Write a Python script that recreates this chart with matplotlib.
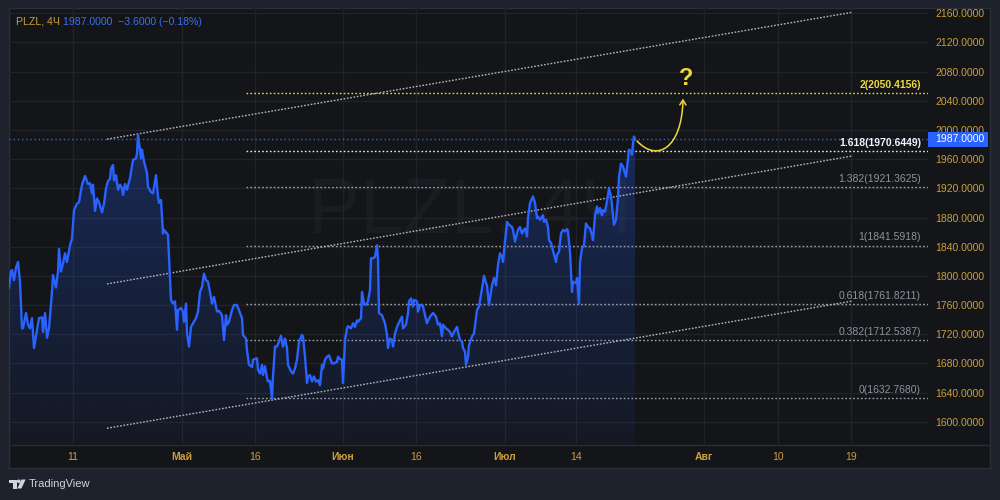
import matplotlib
matplotlib.use("Agg")
import matplotlib.pyplot as plt
import numpy as np
import matplotlib.transforms as mtransforms
from matplotlib.patches import Rectangle, Polygon, FancyArrowPatch, Circle
from matplotlib.path import Path
from matplotlib.lines import Line2D
from matplotlib.colors import to_rgb

plt.rcParams['font.family'] = ['Liberation Sans', 'DejaVu Sans']

# ---------------- data ----------------
symbol = "PLZL, 4Ч"
last_price = 1987.0
change = -3.6
change_pct = -0.18

bar_idx = [0, 2, 3, 5, 7, 9, 11, 13, 14, 17, 19, 21, 23, 25, 28, 30, 33, 34, 36, 38,
           40, 43, 44, 47, 49, 50, 52, 54, 56, 58, 61, 63, 65, 68, 70, 73, 76, 79, 81, 83,
           84, 86, 88, 90, 93, 95, 97, 99, 101, 102, 104, 105, 107, 109, 111, 113, 114, 116, 118, 121,
           124, 127, 128, 129, 131, 132, 133, 135, 138, 139, 142, 144, 147, 149, 150, 152, 154, 155, 158, 159,
           162, 164, 166, 168, 169, 172, 174, 175, 177, 178, 180, 182, 184, 187, 189, 191, 193, 195, 197, 199,
           201, 203, 205, 208, 210, 213, 215, 217, 218, 220, 223, 225, 228, 230, 233, 234, 237, 238, 240, 243,
           244, 248, 249, 251, 253, 254, 256, 258, 259, 261, 263, 264, 266, 268, 270, 272, 274, 276, 278, 279,
           282, 284, 286, 288, 290, 293, 294, 296, 298, 299, 301, 303, 305, 307, 309, 311, 313, 314, 316, 318,
           320, 323, 325, 328, 329, 331, 333, 334, 336, 338, 339, 342, 344, 346, 348, 349, 352, 353, 355, 357,
           359, 361, 362, 364, 366, 368, 369, 370, 373, 374, 376, 378, 379, 381, 383, 384, 386, 388, 389, 391,
           393, 394, 397, 399, 400, 402, 404, 405, 408, 409, 411, 413, 414, 416, 418, 419, 422, 424, 427, 429,
           431, 433, 434, 437, 439, 441, 443, 445, 448, 449, 451, 453, 454, 456, 457, 459, 460, 463, 465, 468,
           470, 472, 473, 475, 477, 478, 480, 483, 485, 487, 489, 491, 493, 494, 496, 498, 500, 503, 504, 506,
           508, 509, 511, 513, 514, 516, 518, 519, 521, 523, 524, 526, 528, 529, 531, 534, 535, 537, 539, 540,
           542, 544, 545, 547, 548, 550, 552, 554, 556, 558, 559, 561, 563, 564, 567, 568, 570, 571, 573, 575,
           577, 579, 581, 583, 584, 586, 588, 589, 591, 593, 594, 596, 598, 600, 602, 604, 605, 607, 609, 610,
           612, 614, 615, 617, 619, 620, 622, 623, 624, 625, 626]

close = [1784, 1806, 1808, 1794, 1811, 1819, 1792, 1728, 1728, 1749, 1733, 1728, 1742, 1701, 1726, 1742, 1743, 1723, 1749, 1715,
         1728, 1778, 1801, 1784, 1806, 1837, 1806, 1817, 1831, 1819, 1842, 1851, 1890, 1899, 1901, 1925, 1937, 1926, 1927, 1913,
         1925, 1889, 1906, 1901, 1887, 1899, 1920, 1930, 1933, 1947, 1952, 1931, 1938, 1918, 1925, 1920, 1911, 1926, 1918, 1934,
         1959, 1961, 1968, 1993, 1973, 1961, 1973, 1957, 1941, 1922, 1915, 1913, 1938, 1909, 1900, 1904, 1858, 1863, 1858, 1856,
         1767, 1762, 1765, 1726, 1753, 1756, 1751, 1737, 1762, 1721, 1703, 1730, 1735, 1742, 1751, 1778, 1785, 1803, 1794, 1792,
         1778, 1762, 1771, 1751, 1752, 1746, 1712, 1746, 1733, 1737, 1753, 1760, 1760, 1753, 1742, 1719, 1714, 1698, 1678, 1675,
         1685, 1687, 1671, 1666, 1678, 1664, 1676, 1660, 1655, 1656, 1632, 1662, 1703, 1703, 1710, 1718, 1703, 1714, 1701, 1678,
         1669, 1666, 1673, 1685, 1710, 1719, 1717, 1689, 1653, 1662, 1664, 1655, 1662, 1655, 1657, 1650, 1678, 1673, 1685, 1689,
         1691, 1680, 1680, 1682, 1689, 1686, 1685, 1653, 1712, 1728, 1731, 1728, 1735, 1730, 1739, 1737, 1742, 1778, 1762, 1760,
         1765, 1781, 1824, 1824, 1826, 1842, 1824, 1749, 1746, 1742, 1735, 1719, 1701, 1714, 1712, 1703, 1721, 1730, 1733, 1739,
         1744, 1728, 1733, 1749, 1765, 1769, 1758, 1767, 1765, 1751, 1760, 1760, 1758, 1746, 1735, 1739, 1746, 1749, 1744, 1733,
         1735, 1717, 1733, 1728, 1726, 1723, 1717, 1723, 1730, 1723, 1712, 1710, 1701, 1696, 1678, 1689, 1705, 1717, 1721, 1753,
         1758, 1774, 1783, 1800, 1790, 1787, 1760, 1787, 1797, 1787, 1815, 1831, 1826, 1819, 1847, 1874, 1870, 1867, 1863, 1847,
         1858, 1863, 1867, 1858, 1861, 1865, 1854, 1879, 1900, 1906, 1909, 1900, 1879, 1881, 1877, 1883, 1874, 1877, 1867, 1849,
         1845, 1835, 1829, 1819, 1829, 1833, 1858, 1863, 1861, 1864, 1861, 1833, 1778, 1792, 1790, 1797, 1762, 1819, 1838, 1842,
         1872, 1867, 1865, 1856, 1849, 1883, 1895, 1886, 1893, 1883, 1890, 1888, 1902, 1920, 1909, 1883, 1870, 1877, 1906, 1936,
         1954, 1950, 1945, 1936, 1961, 1973, 1971, 1966, 1982, 1991, 1987]

x_tick_pos = [64, 173, 246, 334, 407, 496, 567, 695, 769, 842]
x_tick_labels = ["11", "Май", "16", "Июн", "16", "Июл", "14", "Авг", "10", "19"]
month_labels = ["Май", "Июн", "Июл", "Авг"]
y_ticks = list(range(1600, 2161, 40))

fib_ratios = ["0", "0.382", "0.618", "1", "1.382", "1.618", "2"]
fib_values = [1632.7680, 1712.5387, 1761.8211, 1841.5918, 1921.3625, 1970.6449, 2050.4156]
fib_start = 237

channel_x = [98, 844]
channel_upper = [1987.4, 2161.6]
channel_mid = [1788.9, 1964.5]
channel_lower = [1591.0, 1765.6]

# forecast arrow (annotation)
arrow_pts = [(628, 1985), (648, 1955), (673, 1975), (674, 2043)]
question_pos = (677, 2071)

# ---------------- style ----------------
BG_OUT = '#1e222d'
BG = '#131518'
GRID = '#212329'
GOLD = '#cc9f3c'
BLUE = '#2962ff'
YELLOW = '#ecd93c'
GREY = '#8f929b'
FS = 7.5

XMIN, XMAX = 0, 919
YMIN, YMAX = 1569.4, 2167.3

fig = plt.figure(figsize=(10, 5), dpi=100)
fig.patch.set_facecolor(BG_OUT)

# pixel transform (top-left origin) for decorations
PX = mtransforms.Affine2D().scale(1 / 1000, -1 / 500).translate(0, 1) + fig.transFigure

fig.patches.append(Rectangle((9, 8), 981, 460, transform=PX, facecolor=BG,
                             edgecolor='#2a2e39', lw=1, zorder=-2))
fig.lines.append(Line2D([9, 990], [444.5, 444.5], transform=PX, color='#2a2e39', lw=1, zorder=-1))

ax = fig.add_axes([0.009, 0.112, 0.919, 0.872])
ax.set_zorder(1)
ax.set_facecolor('none')
for s in ax.spines.values():
    s.set_visible(False)

# watermark
ax.text(0.5016, 0.532, symbol, transform=ax.transAxes, fontsize=56, color='#1a1c21',
        ha='center', va='center', zorder=0.5)

# grid
ax.set_yticks(y_ticks)
ax.set_yticklabels([f"{v:.4f}" for v in y_ticks])
ax.set_xticks(x_tick_pos)
ax.set_xticklabels(x_tick_labels)
ax.grid(True, color=GRID, lw=1, zorder=0)
ax.set_axisbelow(True)
ax.yaxis.tick_right()
ax.tick_params(axis='y', length=0, pad=5.0, labelsize=FS, labelcolor=GOLD)
ax.tick_params(axis='x', length=0, pad=5.5, labelsize=FS, labelcolor=GOLD)
for lab in ax.get_xticklabels():
    if lab.get_text() in month_labels:
        lab.set_fontweight('bold')

# area gradient
verts = [(bar_idx[0], YMIN)] + list(zip(bar_idx, close)) + [(bar_idx[-1], YMIN)]
poly = Polygon(verts, closed=True, facecolor='none', edgecolor='none')
ax.add_patch(poly)
n = 256
rgba = np.zeros((n, 1, 4))
rgba[..., :3] = to_rgb(BLUE)
rgba[:, 0, 3] = np.linspace(0.05, 0.27, n)
im = ax.imshow(rgba, extent=[bar_idx[0], bar_idx[-1], YMIN, max(close)], origin='lower',
               aspect='auto', zorder=1, interpolation='bilinear')
im.set_clip_path(poly)

# price line
ax.plot(bar_idx, close, color=BLUE, lw=1.7, zorder=4, solid_joinstyle='round')
ax.axhline(last_price, color=BLUE, lw=1, ls=(0, (1, 2)), zorder=2)

# channels
for ys in (channel_upper, channel_mid, channel_lower):
    ax.plot(channel_x, ys, color='#b4b7bf', lw=1, ls=(0, (1.2, 1.2)), zorder=3)

# fib levels
for r, v in zip(fib_ratios, fib_values):
    if r == "2":
        c, lc, w = YELLOW, YELLOW, 'bold'
    elif r == "1.618":
        c, lc, w = '#f0f3fa', '#e6e8ee', 'bold'
    else:
        c, lc, w = GREY, '#9ea1aa', 'normal'
    ax.hlines(v, fib_start, XMAX, color=lc, lw=1, linestyles=[(0, (1.2, 1.6))], zorder=2)
    ax.annotate(f"{r}({v:.4f})", xy=(912, v), xytext=(0, 2.2), textcoords='offset points',
                ha='right', va='bottom', fontsize=FS, color=c, fontweight=w, zorder=5)

# forecast arrow
path = Path(arrow_pts, [Path.MOVETO, Path.CURVE4, Path.CURVE4, Path.CURVE4])
arr = FancyArrowPatch(path=path, arrowstyle='->,head_length=3.5,head_width=2.2',
                      color=YELLOW, lw=1.1, zorder=6)
ax.add_patch(arr)
ax.text(question_pos[0], question_pos[1], "?", fontsize=17, fontweight='bold',
        color=YELLOW, ha='center', va='center', zorder=6)

ax.set_xlim(XMIN, XMAX)
ax.set_ylim(YMIN, YMAX)

# last price label on axis
per_px = (YMAX - YMIN) / 436.0
blend = mtransforms.blended_transform_factory(ax.transAxes, ax.transData)
ax.add_patch(Rectangle((1.0, last_price - 7.5 * per_px), 60 / 919, 15 * per_px,
                       transform=blend, facecolor=BLUE, edgecolor='none',
                       clip_on=False, zorder=10))
ax.text(1.0 + 7.5 / 919, last_price, f"{last_price:.4f}", transform=blend, fontsize=FS,
        color='white', ha='left', va='center', clip_on=False, zorder=11)

# legend title
fig.text(16 / 1000, 1 - 22 / 500, symbol, color=GOLD, fontsize=7.6, ha='left', va='center')
fig.text(63 / 1000, 1 - 22 / 500,
         f"{last_price:.4f}  {change:.4f} ({change_pct:.2f}%)".replace('-', '−'),
         color='#3a6ff5', fontsize=7.6, ha='left', va='center')

# TradingView logo
LOGO = '#d1d4dc'
fig.patches.append(Rectangle((9, 479.5), 7.5, 3.3, transform=PX, facecolor=LOGO, edgecolor='none'))
fig.patches.append(Rectangle((12.6, 479.5), 3.9, 9, transform=PX, facecolor=LOGO, edgecolor='none'))
fig.patches.append(Circle((18.8, 481.3), 1.8, transform=PX, facecolor=LOGO, edgecolor='none'))
fig.patches.append(Polygon([(21.5, 479.5), (25.6, 479.5), (21.4, 488.5), (17.3, 488.5)],
                           closed=True, transform=PX, facecolor=LOGO, edgecolor='none'))
fig.text(29 / 1000, 1 - 484 / 500, "TradingView", color=LOGO, fontsize=8,
         ha='left', va='center')

fig.savefig('out.png', dpi=100, facecolor=fig.get_facecolor())
